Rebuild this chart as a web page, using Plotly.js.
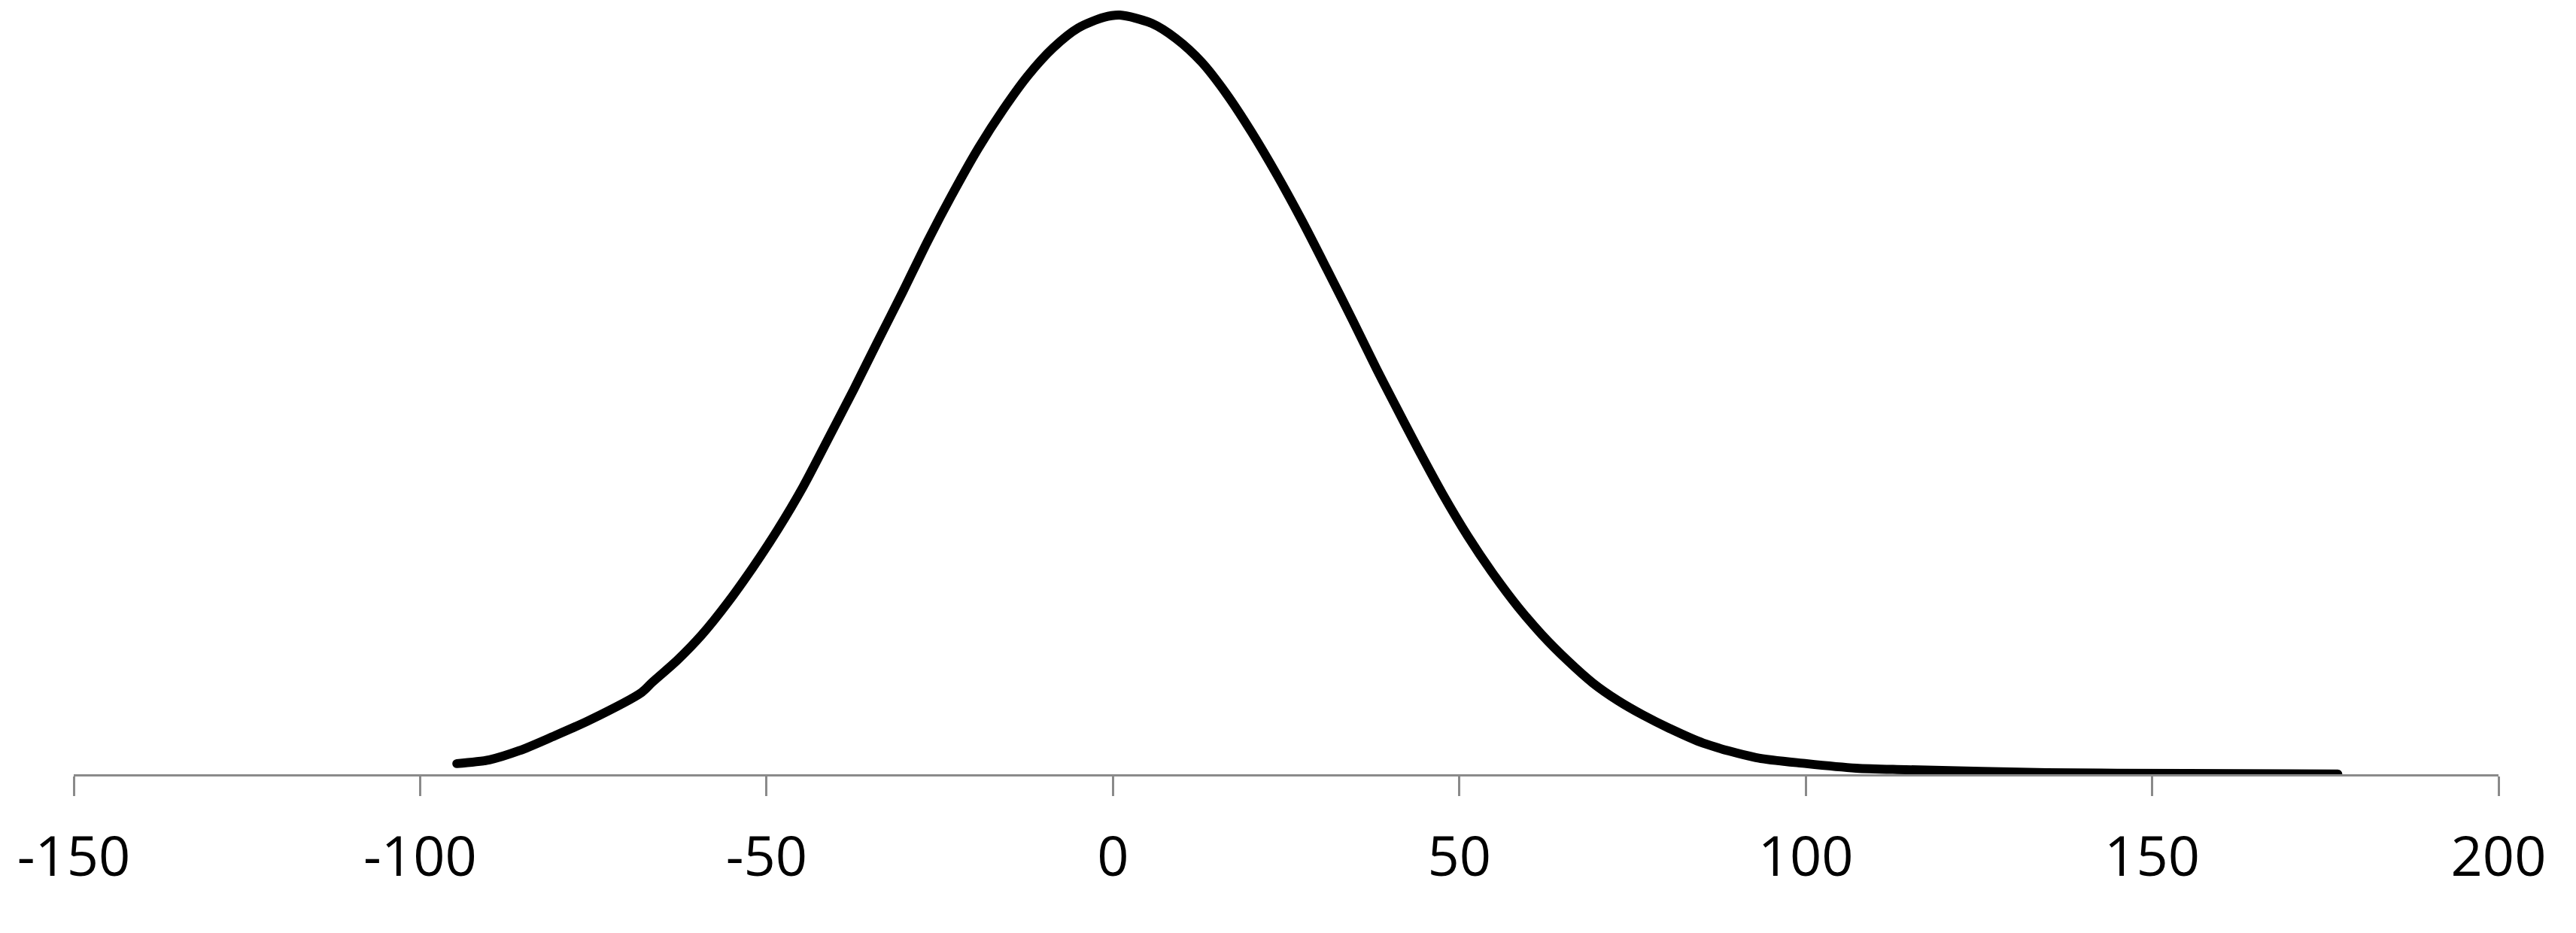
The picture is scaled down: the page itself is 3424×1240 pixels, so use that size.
<!DOCTYPE html>
<html>
<head>
<meta charset="utf-8">
<script src="https://cdn.plot.ly/plotly-3.0.1.min.js"></script>
<style>
  html, body { margin: 0; padding: 0; background: #fff; }
  #plot { width: 3424px; height: 1240px; }
  .js-line { stroke-linecap: round; stroke-linejoin: round; }
</style>
</head>
<body>
<div id="plot"></div>
<script>
// curve (x value, relative height with peak = 1)
const xVals = [
  -94.7, -90.0, -85.7, -81.0, -75.6, -68.0, -66.5, -62.9, -59.3, -55.6,
  -52.0, -48.4, -44.7, -41.2, -37.4, -33.9, -30.3, -26.7, -23.0, -19.4,
  -15.8, -12.2, -8.6, -5.0, -1.3, 1.0, 5.6, 9.1, 12.8, 16.4,
  20.0, 23.7, 27.3, 30.9, 34.6, 38.1, 40.3, 43.9, 47.6, 51.2,
  54.8, 58.5, 62.0, 65.6, 69.3, 72.9, 76.5, 80.2, 85.2, 92.8,
  100.1, 107.3, 114.5, 134.8, 155.0, 176.8
];
const yVals = [
  0.014, 0.019, 0.031, 0.049, 0.071, 0.108, 0.121, 0.150, 0.184, 0.226,
  0.272, 0.322, 0.379, 0.440, 0.507, 0.571, 0.636, 0.703, 0.767, 0.825,
  0.876, 0.921, 0.957, 0.983, 0.997, 1.000, 0.989, 0.969, 0.938, 0.896,
  0.846, 0.789, 0.729, 0.665, 0.598, 0.533, 0.494, 0.431, 0.369, 0.314,
  0.265, 0.220, 0.183, 0.150, 0.120, 0.097, 0.078, 0.061, 0.041, 0.022,
  0.014, 0.008, 0.006, 0.002, 0.001, 0.0003
];
const xTicks = [-150, -100, -50, 0, 50, 100, 150, 200];

const curve = {
  x: xVals,
  y: yVals,
  type: "scatter",
  mode: "lines",
  line: { color: "#000000", width: 12, shape: "spline", smoothing: 0.8 },
  hoverinfo: "none"
};

const layout = {
  width: 3424,
  height: 1240,
  margin: { l: 98, r: 103, t: 0, b: 211 },
  paper_bgcolor: "#ffffff",
  plot_bgcolor: "#ffffff",
  showlegend: false,
  xaxis: {
    range: [-150, 200],
    tickmode: "array",
    tickvals: xTicks,
    ticktext: xTicks.map(String),
    showgrid: false,
    zeroline: false,
    showline: true,
    linecolor: "#8a8a8a",
    linewidth: 3,
    ticks: "outside",
    ticklen: 26,
    tickwidth: 3,
    tickcolor: "#8a8a8a",
    tickfont: { family: "Open Sans, sans-serif", size: 74, color: "#000000" },
    ticklabelstandoff: 17
  },
  yaxis: {
    range: [0, 1.0198],
    visible: false,
    showgrid: false,
    zeroline: false
  }
};

Plotly.newPlot("plot", [curve], layout, { staticPlot: true, displayModeBar: false });
</script>
</body>
</html>
